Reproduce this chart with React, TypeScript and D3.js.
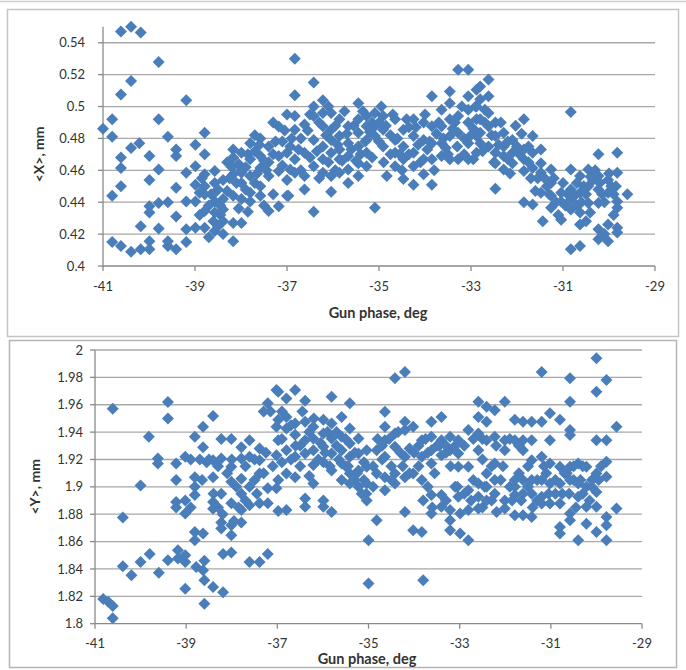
import React from 'react';
import * as d3 from 'd3';

const xTicks = [-41, -39, -37, -35, -33, -31, -29];
const topYTicks = [0.4, 0.42, 0.44, 0.46, 0.48, 0.5, 0.52, 0.54];
const topYLabels = ['0.4', '0.42', '0.44', '0.46', '0.48', '0.5', '0.52', '0.54'];
const bottomYTicks = [1.8, 1.82, 1.84, 1.86, 1.88, 1.9, 1.92, 1.94, 1.96, 1.98, 2];
const bottomYLabels = ['1.8', '1.82', '1.84', '1.86', '1.88', '1.9', '1.92', '1.94', '1.96', '1.98', '2'];

// <X> vs gun phase
const topPoints: [number, number][] = [
  [-41.0, 0.486], [-40.8, 0.492], [-40.8, 0.481], [-40.8, 0.444], [-40.8, 0.415], [-40.61, 0.5075], [-40.61, 0.468], [-40.61, 0.4615],
  [-40.61, 0.45], [-40.61, 0.4125], [-40.61, 0.547], [-40.39, 0.55], [-40.39, 0.516], [-40.39, 0.474], [-40.39, 0.409], [-40.18, 0.5465],
  [-40.21, 0.477], [-40.18, 0.425], [-40.18, 0.4105], [-39.99, 0.469], [-39.99, 0.454], [-39.99, 0.4375], [-39.99, 0.4335], [-39.99, 0.4155],
  [-39.99, 0.4105], [-39.79, 0.528], [-39.79, 0.492], [-39.79, 0.4605], [-39.79, 0.4395], [-39.79, 0.4235], [-39.59, 0.481], [-39.59, 0.44],
  [-39.59, 0.4155], [-39.59, 0.4125], [-39.41, 0.473], [-39.41, 0.469], [-39.41, 0.449], [-39.41, 0.431], [-39.41, 0.4105], [-39.19, 0.504],
  [-39.19, 0.4585], [-39.19, 0.4405], [-39.19, 0.423], [-39.19, 0.415], [-38.99, 0.476], [-38.99, 0.4625], [-38.99, 0.451], [-38.99, 0.4405],
  [-38.99, 0.424], [-38.79, 0.4835], [-38.79, 0.47], [-38.79, 0.4575], [-38.79, 0.45], [-38.79, 0.445], [-38.79, 0.4345], [-38.79, 0.424],
  [-38.57, 0.4595], [-38.57, 0.452], [-38.57, 0.446], [-38.57, 0.4405], [-38.57, 0.4335], [-38.57, 0.422], [-38.39, 0.454], [-38.39, 0.442],
  [-38.39, 0.4355], [-38.39, 0.428], [-38.39, 0.42], [-38.17, 0.473], [-38.17, 0.468], [-38.17, 0.4575], [-38.17, 0.444], [-38.17, 0.427],
  [-38.17, 0.4155], [-37.99, 0.471], [-37.99, 0.4585], [-37.99, 0.452], [-37.99, 0.442], [-37.99, 0.427], [-37.8, 0.477], [-37.8, 0.467],
  [-37.8, 0.4565], [-37.8, 0.446], [-37.8, 0.4405], [-37.58, 0.48], [-37.58, 0.469], [-37.58, 0.4615], [-37.58, 0.45], [-37.58, 0.444],
  [-37.4, 0.475], [-37.4, 0.465], [-37.4, 0.4565], [-37.4, 0.4345], [-37.18, 0.4875], [-37.18, 0.469], [-37.18, 0.4595], [-37.18, 0.4375],
  [-37.0, 0.495], [-37.0, 0.471], [-37.0, 0.454], [-37.0, 0.444],
  [-38.9, 0.446], [-38.7, 0.438], [-38.5, 0.448], [-38.3, 0.447], [-38.1, 0.452], [-37.9, 0.462], [-37.7, 0.472], [-37.5, 0.466],
  [-37.3, 0.47], [-37.1, 0.463], [-38.6, 0.428], [-38.9, 0.432], [-37.9, 0.448], [-37.7, 0.452], [-37.3, 0.445], [-38.2, 0.462],
  [-37.6, 0.476], [-37.1, 0.478],
  [-38.85, 0.455], [-38.65, 0.445], [-38.45, 0.438], [-38.25, 0.455], [-38.05, 0.464], [-37.85, 0.47], [-37.65, 0.458], [-37.45, 0.46],
  [-37.25, 0.478], [-37.05, 0.485], [-38.45, 0.432], [-38.05, 0.436], [-37.85, 0.434], [-37.5, 0.438], [-38.3, 0.465], [-37.7, 0.482],
  [-37.3, 0.49], [-38.7, 0.418], [-38.5, 0.425], [-38.0, 0.46],
  [-36.83, 0.53], [-36.83, 0.507], [-36.83, 0.494], [-36.83, 0.4855], [-36.93, 0.475], [-36.93, 0.4605], [-36.83, 0.467], [-36.83, 0.4585],
  [-36.97, 0.444], [-36.62, 0.4887], [-36.62, 0.471], [-36.62, 0.4565], [-36.62, 0.448], [-36.42, 0.515], [-36.42, 0.5], [-36.42, 0.494],
  [-36.42, 0.479], [-36.42, 0.4625], [-36.42, 0.434], [-36.22, 0.504], [-36.22, 0.496], [-36.22, 0.4877], [-36.22, 0.475], [-36.22, 0.467],
  [-36.22, 0.4585], [-36.04, 0.496], [-36.04, 0.4855], [-36.04, 0.479], [-36.04, 0.471], [-36.04, 0.4565], [-36.04, 0.4465], [-35.86, 0.492],
  [-35.86, 0.4815], [-35.86, 0.473], [-35.86, 0.467], [-35.86, 0.4585], [-35.67, 0.4877], [-35.67, 0.477], [-35.67, 0.469], [-35.67, 0.4605],
  [-35.67, 0.452], [-35.45, 0.502], [-35.45, 0.492], [-35.45, 0.4835], [-35.45, 0.475], [-35.45, 0.4645], [-35.45, 0.4565], [-35.27, 0.494],
  [-35.27, 0.4877], [-35.27, 0.479], [-35.27, 0.471], [-35.27, 0.4625], [-35.09, 0.496], [-35.09, 0.4877], [-35.09, 0.4815], [-35.09, 0.4365],
  [-34.91, 0.494], [-34.91, 0.4855], [-34.91, 0.475], [-34.83, 0.4565], [-34.65, 0.492], [-34.65, 0.479], [-34.65, 0.471], [-34.65, 0.4625],
  [-34.47, 0.4855], [-34.47, 0.475], [-34.47, 0.467], [-34.47, 0.4545], [-34.25, 0.492], [-34.25, 0.4815], [-34.25, 0.471], [-34.25, 0.4625],
  [-34.25, 0.451], [-34.03, 0.49], [-34.03, 0.479], [-34.03, 0.467], [-34.03, 0.4575], [-33.85, 0.5065], [-33.85, 0.4877], [-33.85, 0.477],
  [-33.85, 0.467], [-33.85, 0.451], [-33.64, 0.498], [-33.64, 0.4877], [-33.64, 0.477], [-33.64, 0.469], [-33.46, 0.5095], [-33.46, 0.502],
  [-33.46, 0.492], [-33.46, 0.4815], [-33.46, 0.467], [-33.28, 0.523], [-33.28, 0.494], [-33.28, 0.4835], [-33.28, 0.467], [-33.06, 0.523],
  [-33.06, 0.5065], [-33.06, 0.498], [-33.06, 0.49], [-33.06, 0.477], [-33.06, 0.467], [-32.88, 0.5105], [-32.88, 0.5], [-32.88, 0.492],
  [-32.88, 0.4815], [-32.88, 0.471],
  [-36.9, 0.48], [-36.75, 0.473], [-36.7, 0.46], [-36.55, 0.485], [-36.5, 0.495], [-36.35, 0.472], [-36.3, 0.455], [-36.15, 0.482],
  [-36.1, 0.5], [-35.95, 0.488], [-35.95, 0.46], [-35.8, 0.466], [-35.75, 0.497], [-35.6, 0.473], [-35.55, 0.488], [-35.4, 0.47],
  [-35.35, 0.497], [-35.2, 0.484], [-35.15, 0.468], [-35.0, 0.49], [-35.0, 0.478], [-34.95, 0.5],
  [-34.85, 0.488], [-34.75, 0.47], [-34.7, 0.495], [-34.6, 0.48], [-34.5, 0.46], [-34.4, 0.492], [-34.35, 0.47], [-34.2, 0.487],
  [-34.1, 0.465], [-34.0, 0.495], [-33.9, 0.478], [-33.8, 0.46], [-33.7, 0.49], [-33.6, 0.48], [-33.5, 0.47], [-33.4, 0.486],
  [-33.3, 0.475], [-33.2, 0.5], [-33.15, 0.47], [-33.0, 0.482],
  [-32.8, 0.5125], [-32.8, 0.5045], [-32.8, 0.492], [-32.8, 0.4835], [-32.8, 0.477], [-32.95, 0.467], [-32.62, 0.517], [-32.62, 0.5065],
  [-32.62, 0.496], [-32.62, 0.4877], [-32.62, 0.475], [-32.47, 0.49], [-32.47, 0.4815], [-32.47, 0.471], [-32.47, 0.4645], [-32.47, 0.4485],
  [-32.29, 0.4835], [-32.29, 0.475], [-32.29, 0.469], [-32.29, 0.4605], [-32.1, 0.479], [-32.1, 0.471], [-32.1, 0.4645], [-32.03, 0.488],
  [-31.85, 0.492], [-31.85, 0.473], [-31.85, 0.467], [-31.85, 0.4595], [-31.85, 0.44], [-31.66, 0.4815], [-31.66, 0.471], [-31.66, 0.4615],
  [-31.66, 0.4385], [-31.48, 0.473], [-31.48, 0.4645], [-31.48, 0.4585], [-31.48, 0.446], [-31.44, 0.428], [-31.26, 0.4605], [-31.26, 0.452],
  [-31.26, 0.444], [-31.26, 0.4365], [-31.04, 0.446], [-31.04, 0.4405], [-31.04, 0.429], [-30.83, 0.4965], [-30.83, 0.4605], [-30.83, 0.448],
  [-30.83, 0.4415], [-30.83, 0.4355], [-30.83, 0.4105], [-30.63, 0.4565], [-30.63, 0.446], [-30.63, 0.4335], [-30.63, 0.426], [-30.63, 0.4125],
  [-30.45, 0.4605], [-30.45, 0.45], [-30.45, 0.4395], [-30.41, 0.4335], [-30.23, 0.47], [-30.23, 0.4565], [-30.23, 0.448], [-30.23, 0.4395],
  [-30.23, 0.423], [-30.23, 0.4167], [-30.02, 0.454], [-30.02, 0.446], [-30.02, 0.426], [-30.02, 0.4155], [-29.82, 0.471], [-29.82, 0.4585],
  [-29.82, 0.4405], [-29.82, 0.4365], [-29.82, 0.424], [-29.82, 0.421], [-29.6, 0.445],
  [-32.9, 0.5], [-32.75, 0.472], [-32.7, 0.498], [-32.55, 0.482], [-32.5, 0.465], [-32.35, 0.49], [-32.2, 0.478], [-32.15, 0.458],
  [-32.0, 0.475], [-31.9, 0.483], [-31.75, 0.475], [-31.7, 0.455], [-31.6, 0.447], [-31.4, 0.455], [-31.3, 0.445], [-31.2, 0.455],
  [-31.1, 0.432], [-31.0, 0.452],
  [-30.9, 0.445], [-30.7, 0.438], [-30.6, 0.44], [-30.5, 0.445], [-30.4, 0.456], [-30.3, 0.46], [-30.2, 0.452], [-30.1, 0.44],
  [-30.0, 0.458], [-29.9, 0.445], [-29.85, 0.45], [-30.7, 0.452], [-30.5, 0.428], [-30.1, 0.42],
  [-36.7, 0.48], [-36.5, 0.468], [-36.3, 0.49], [-36.1, 0.465], [-35.9, 0.476], [-35.7, 0.483], [-35.5, 0.466], [-35.3, 0.478],
  [-35.15, 0.49], [-34.9, 0.465], [-34.75, 0.482], [-34.55, 0.47], [-34.35, 0.487], [-34.15, 0.476], [-33.95, 0.473], [-33.75, 0.483],
  [-33.55, 0.474], [-33.35, 0.49], [-33.15, 0.48], [-32.95, 0.486], [-32.7, 0.49], [-32.4, 0.476], [-32.2, 0.467], [-31.95, 0.47],
  [-31.75, 0.465], [-31.55, 0.455], [-31.35, 0.45], [-31.15, 0.44], [-30.95, 0.438], [-30.75, 0.444], [-30.55, 0.45], [-30.35, 0.454],
  [-30.15, 0.445], [-29.95, 0.45], [-29.9, 0.432],
];

// <Y> vs gun phase
const bottomPoints: [number, number][] = [
  [-40.82, 1.818], [-40.71, 1.816], [-40.61, 1.813], [-40.61, 1.804], [-40.61, 1.957], [-40.39, 1.8776], [-40.39, 1.842], [-40.2, 1.8354],
  [-40.0, 1.901], [-40.0, 1.845], [-39.82, 1.9366], [-39.8, 1.851], [-39.62, 1.9207], [-39.62, 1.917], [-39.6, 1.8373], [-39.4, 1.962],
  [-39.4, 1.95], [-39.4, 1.8463], [-39.22, 1.917], [-39.22, 1.905], [-39.22, 1.889], [-39.22, 1.885], [-39.18, 1.8537], [-39.18, 1.8476],
  [-39.02, 1.922], [-39.02, 1.89], [-39.02, 1.8805], [-39.02, 1.85], [-39.02, 1.845], [-39.02, 1.8256], [-38.81, 1.9366], [-38.81, 1.907],
  [-38.81, 1.9], [-38.81, 1.894], [-38.81, 1.867], [-38.81, 1.861], [-38.78, 1.8415], [-38.63, 1.944], [-38.63, 1.929], [-38.63, 1.866],
  [-38.63, 1.839], [-38.6, 1.8317], [-38.6, 1.8146], [-38.6, 1.846], [-38.41, 1.9517], [-38.41, 1.9195], [-38.41, 1.907], [-38.41, 1.889],
  [-38.41, 1.884], [-38.41, 1.8268], [-38.23, 1.935], [-38.23, 1.9207], [-38.23, 1.895], [-38.23, 1.874], [-38.23, 1.8695], [-38.19, 1.823],
  [-38.19, 1.851], [-38.01, 1.935], [-38.01, 1.9146], [-38.01, 1.9037], [-38.01, 1.888], [-38.01, 1.872], [-38.01, 1.8646], [-38.01, 1.852],
  [-37.79, 1.929], [-37.79, 1.9207], [-37.79, 1.906], [-37.79, 1.895], [-37.79, 1.883], [-37.79, 1.874], [-37.61, 1.934], [-37.61, 1.922],
  [-37.61, 1.9], [-37.61, 1.8866], [-37.61, 1.845], [-37.39, 1.928], [-37.39, 1.9195], [-37.39, 1.9098], [-37.39, 1.888], [-37.39, 1.845],
  [-37.21, 1.851], [-37.21, 1.961], [-37.21, 1.888], [-37.21, 1.899], [-37.02, 1.9707], [-37.02, 1.944], [-37.02, 1.923], [-37.02, 1.899],
  [-36.98, 1.8824],
  [-38.9, 1.92], [-38.55, 1.918], [-38.3, 1.915], [-38.1, 1.91], [-37.9, 1.9], [-37.7, 1.915], [-37.5, 1.92], [-37.3, 1.91],
  [-37.1, 1.915], [-38.4, 1.895], [-38.2, 1.88], [-37.95, 1.875], [-37.7, 1.89], [-37.45, 1.895], [-37.15, 1.955], [-37.3, 1.955],
  [-38.65, 1.905], [-38.9, 1.885],
  [-36.98, 1.9695], [-36.98, 1.949], [-36.98, 1.934], [-36.98, 1.905], [-36.8, 1.9646], [-36.8, 1.951], [-36.8, 1.9427], [-36.8, 1.9268],
  [-36.8, 1.9098], [-36.8, 1.883], [-36.61, 1.9707], [-36.61, 1.9463], [-36.61, 1.938], [-36.61, 1.922], [-36.61, 1.907], [-36.39, 1.963],
  [-36.39, 1.9476], [-36.39, 1.934], [-36.39, 1.9244], [-36.39, 1.8915], [-36.39, 1.8854], [-36.21, 1.944], [-36.21, 1.9354], [-36.21, 1.9268],
  [-36.21, 1.916], [-36.21, 1.9024], [-35.99, 1.949], [-35.99, 1.939], [-35.99, 1.9293], [-35.99, 1.918], [-35.99, 1.89], [-35.99, 1.8854],
  [-35.81, 1.9659], [-35.81, 1.9463], [-35.81, 1.9354], [-35.81, 1.9244], [-35.81, 1.912], [-35.81, 1.8817], [-35.59, 1.951], [-35.59, 1.9366],
  [-35.59, 1.9268], [-35.59, 1.917], [-35.59, 1.905], [-35.41, 1.961], [-35.41, 1.9427], [-35.41, 1.9317], [-35.41, 1.922], [-35.41, 1.9098],
  [-35.41, 1.9024], [-35.22, 1.9354], [-35.22, 1.9244], [-35.22, 1.912], [-35.22, 1.9], [-35.15, 1.895], [-35.04, 1.9268], [-35.04, 1.9146],
  [-35.04, 1.9024], [-35.04, 1.89], [-35.0, 1.861], [-35.0, 1.8293], [-34.82, 1.8756], [-34.82, 1.9268], [-34.82, 1.9098], [-34.64, 1.9549],
  [-34.64, 1.944], [-34.64, 1.934], [-34.64, 1.922], [-34.64, 1.907], [-34.64, 1.8976], [-34.42, 1.9793], [-34.42, 1.939], [-34.42, 1.9293],
  [-34.42, 1.9098], [-34.42, 1.9024], [-34.2, 1.984], [-34.2, 1.9476], [-34.2, 1.9415], [-34.2, 1.922], [-34.2, 1.907], [-34.2, 1.8817],
  [-34.02, 1.944], [-34.02, 1.9098], [-34.02, 1.8683], [-33.83, 1.934], [-33.83, 1.922], [-33.83, 1.905], [-33.83, 1.867], [-33.8, 1.8317],
  [-33.8, 1.89], [-33.62, 1.9476], [-33.62, 1.9366], [-33.62, 1.9268], [-33.62, 1.917], [-33.62, 1.894], [-33.62, 1.8805], [-33.4, 1.951],
  [-33.4, 1.934], [-33.4, 1.923], [-33.4, 1.894], [-33.4, 1.8854], [-33.21, 1.9366], [-33.21, 1.9268], [-33.21, 1.883], [-33.21, 1.8756],
  [-33.21, 1.8683], [-33.03, 1.934], [-33.03, 1.9244], [-33.03, 1.9146], [-33.03, 1.8927], [-32.99, 1.866],
  [-36.9, 1.955], [-36.7, 1.945], [-36.6, 1.93], [-36.45, 1.955], [-36.3, 1.94], [-36.2, 1.95], [-36.05, 1.932], [-35.95, 1.925],
  [-35.85, 1.915], [-35.7, 1.94], [-35.65, 1.92], [-35.5, 1.935], [-35.45, 1.915], [-35.3, 1.925], [-35.25, 1.91], [-35.1, 1.905],
  [-35.05, 1.895], [-36.5, 1.915], [-36.3, 1.908], [-36.7, 1.92], [-36.9, 1.918],
  [-34.9, 1.915], [-34.8, 1.935], [-34.7, 1.92], [-34.55, 1.935], [-34.5, 1.905], [-34.35, 1.94], [-34.25, 1.915], [-34.1, 1.91],
  [-34.0, 1.925], [-33.9, 1.915], [-33.75, 1.935], [-33.7, 1.9], [-33.55, 1.91], [-33.45, 1.93], [-33.3, 1.925], [-33.2, 1.915],
  [-33.1, 1.93], [-33.05, 1.9], [-33.6, 1.885], [-33.3, 1.89],
  [-32.99, 1.8805], [-32.81, 1.9415], [-32.81, 1.9146], [-32.81, 1.8976], [-32.81, 1.861], [-32.81, 1.883], [-32.59, 1.9622], [-32.59, 1.951],
  [-32.59, 1.939], [-32.59, 1.9268], [-32.59, 1.9024], [-32.59, 1.8927], [-32.59, 1.8841], [-32.41, 1.9585], [-32.41, 1.9476], [-32.41, 1.934],
  [-32.41, 1.9098], [-32.41, 1.9], [-32.41, 1.89], [-32.23, 1.956], [-32.23, 1.9366], [-32.23, 1.917], [-32.23, 1.905], [-32.23, 1.895],
  [-32.19, 1.8817], [-32.01, 1.9622], [-32.01, 1.934], [-32.01, 1.9268], [-32.01, 1.89], [-32.01, 1.8841], [-31.79, 1.949], [-31.79, 1.934],
  [-31.79, 1.905], [-31.79, 1.9], [-31.79, 1.894], [-31.79, 1.8793], [-31.61, 1.9476], [-31.61, 1.934], [-31.61, 1.9268], [-31.61, 1.905],
  [-31.61, 1.895], [-31.61, 1.8793], [-31.42, 1.9476], [-31.42, 1.934], [-31.42, 1.9195], [-31.42, 1.905], [-31.42, 1.895], [-31.42, 1.878],
  [-31.2, 1.984], [-31.2, 1.9476], [-31.2, 1.922], [-31.2, 1.905], [-31.2, 1.8927], [-31.2, 1.8878], [-31.02, 1.9537], [-31.02, 1.934],
  [-31.02, 1.917], [-31.02, 1.9024], [-31.02, 1.8878], [-30.8, 1.949], [-30.8, 1.9146], [-30.8, 1.9024], [-30.8, 1.8878], [-30.8, 1.8707],
  [-30.8, 1.8659], [-30.58, 1.9793], [-30.58, 1.9622], [-30.58, 1.9415], [-30.58, 1.9378], [-30.58, 1.9146], [-30.58, 1.905], [-30.58, 1.8805],
  [-30.58, 1.8756], [-30.4, 1.917], [-30.4, 1.9024], [-30.4, 1.8927], [-30.4, 1.861], [-30.22, 1.9146], [-30.22, 1.9], [-30.22, 1.8854],
  [-30.22, 1.873], [-30.0, 1.9939], [-30.0, 1.9695], [-30.0, 1.934], [-30.0, 1.9098], [-30.0, 1.8963], [-30.0, 1.8854], [-30.0, 1.867],
  [-29.78, 1.978], [-29.78, 1.934], [-29.78, 1.9183], [-29.78, 1.9073], [-29.78, 1.878], [-29.78, 1.872], [-29.78, 1.861], [-29.56, 1.944],
  [-29.56, 1.8841],
  [-32.9, 1.93], [-32.75, 1.89], [-32.7, 1.935], [-32.5, 1.935], [-32.45, 1.9], [-32.3, 1.915], [-32.2, 1.93], [-32.05, 1.915],
  [-31.9, 1.935], [-31.85, 1.89], [-31.7, 1.93], [-31.65, 1.89], [-31.5, 1.915], [-31.4, 1.885], [-31.3, 1.905], [-31.15, 1.915],
  [-31.05, 1.895], [-32.5, 1.885],
  [-30.9, 1.905], [-30.75, 1.895], [-30.65, 1.91], [-30.5, 1.915], [-30.45, 1.885], [-30.35, 1.905], [-30.3, 1.915], [-30.15, 1.89],
  [-30.1, 1.9], [-29.95, 1.905], [-29.9, 1.915], [-30.6, 1.895],
  [-36.9, 1.935], [-36.5, 1.93], [-36.1, 1.92], [-35.9, 1.94], [-35.7, 1.93], [-35.5, 1.915], [-35.3, 1.905], [-35.1, 1.918],
  [-34.9, 1.9], [-34.7, 1.93], [-34.5, 1.915], [-34.3, 1.925], [-34.1, 1.928], [-33.9, 1.93], [-33.7, 1.925], [-33.5, 1.93],
  [-33.3, 1.93], [-33.1, 1.9], [-32.9, 1.895], [-32.7, 1.905], [-32.5, 1.92], [-32.3, 1.89], [-32.1, 1.905], [-31.9, 1.9],
  [-31.7, 1.91], [-31.5, 1.9], [-31.3, 1.89], [-31.1, 1.91], [-30.9, 1.895], [-30.7, 1.91], [-30.5, 1.905], [-30.3, 1.895],
  [-30.1, 1.905], [-38.0, 1.92], [-37.5, 1.905], [-38.5, 1.92], [-38.3, 1.885], [-37.85, 1.885], [-37.25, 1.925], [-38.7, 1.92],
];

const FONT = 'Lato, "Open Sans", sans-serif';
const BLUE = '#4a7ebb';
const diamond = (r: number) => `M0,${-r}L${r},0L0,${r}L${-r},0Z`;

interface PanelProps {
  points: [number, number][];
  yTicks: number[];
  yLabels: string[];
  yMax: number;
  x0: number; x1: number; yBottom: number; yTop: number;
  yTitle: string; yTitleX: number;
  xLabelY: number; titleY: number; titleX: number; labelRight: number;
}

function Panel(p: PanelProps) {
  const x = d3.scaleLinear().domain([-41, -29]).range([p.x0, p.x1]);
  const y = d3.scaleLinear().domain([p.yTicks[0], p.yMax]).range([p.yBottom, p.yTop]);
  const midY = (p.yBottom + y(p.yTicks[p.yTicks.length - 1])) / 2;
  return (
    <g>
      {p.yTicks.slice(1).map((t) => (
        <line key={'g' + t} x1={p.x0} x2={p.x1} y1={y(t)} y2={y(t)} stroke="#a8a8a8" strokeWidth={1.3} />
      ))}
      <line x1={p.x0} x2={p.x0} y1={y(p.yMax)} y2={p.yBottom} stroke="#8a8a8a" strokeWidth={1.3} />
      <line x1={p.x0} x2={p.x1} y1={p.yBottom} y2={p.yBottom} stroke="#8a8a8a" strokeWidth={1.3} />
      {p.yTicks.map((t) => (
        <line key={'yt' + t} x1={p.x0 - 5} x2={p.x0} y1={y(t)} y2={y(t)} stroke="#8a8a8a" strokeWidth={1.3} />
      ))}
      {xTicks.map((t) => (
        <line key={'xt' + t} x1={x(t)} x2={x(t)} y1={p.yBottom} y2={p.yBottom + 5} stroke="#8a8a8a" strokeWidth={1.3} />
      ))}
      {p.yTicks.map((t, i) => (
        <text key={'yl' + t} x={p.labelRight} y={y(t)} dy="0.35em" textAnchor="end" fontFamily={FONT} fontSize={13} fill="#333">
          {p.yLabels[i]}
        </text>
      ))}
      {xTicks.map((t) => (
        <text key={'xl' + t} x={x(t)} y={p.xLabelY} textAnchor="middle" fontFamily={FONT} fontSize={13} fill="#333">
          {String(t)}
        </text>
      ))}
      <text x={p.titleX} y={p.titleY} textAnchor="middle" fontFamily={FONT} fontSize={14.5} fontWeight="bold" fill="#333">
        Gun phase, deg
      </text>
      <text
        transform={`translate(${p.yTitleX},${midY}) rotate(-90)`}
        textAnchor="middle"
        fontFamily={FONT}
        fontSize={14}
        fontWeight="bold"
        fill="#333"
      >
        {p.yTitle}
      </text>
      {p.points.map(([px, py], i) => (
        <path key={i} d={diamond(6)} transform={`translate(${x(px)},${y(py)})`} fill={BLUE} />
      ))}
    </g>
  );
}

export default function App() {
  return (
    <svg width={686} height={670} style={{ position: 'absolute', left: 0, top: 0, background: '#fff' }}>
      <rect x={0} y={0} width={686} height={670} fill="#fff" />
      <line x1={0} x2={686} y1={1.5} y2={1.5} stroke="#cfcfcf" strokeWidth={1.5} />
      <rect x={7.5} y={9.5} width={671} height={327} fill="#fff" stroke="#c4c4c4" strokeWidth={1.5} />
      <rect x={9.5} y={340.5} width={667} height={327} fill="#fff" stroke="#b4b4b4" strokeWidth={1.5} />
      <Panel
        points={topPoints}
        yTicks={topYTicks}
        yLabels={topYLabels}
        yMax={0.55}
        x0={103}
        x1={655}
        yBottom={266}
        yTop={26.8}
        yTitle="<X>, mm"
        yTitleX={44}
        xLabelY={291}
        titleY={318}
        titleX={378}
        labelRight={85}
      />
      <Panel
        points={bottomPoints}
        yTicks={bottomYTicks}
        yLabels={bottomYLabels}
        yMax={2}
        x0={95}
        x1={642}
        yBottom={623.7}
        yTop={350}
        yTitle="<Y>, mm"
        yTitleX={40}
        xLabelY={648}
        titleY={664}
        titleX={367}
        labelRight={83}
      />
    </svg>
  );
}
